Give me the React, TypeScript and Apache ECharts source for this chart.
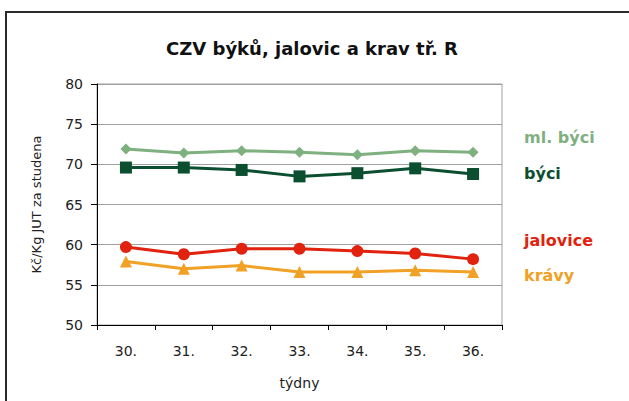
import React, { useEffect, useRef } from "react";
import * as echarts from "echarts";

const title = "CZV býků, jalovic a krav tř. R";
const weeks = ["30.", "31.", "32.", "33.", "34.", "35.", "36."];
const seriesNames = ["ml. býci", "býci", "jalovice", "krávy"];
const mlByci = [71.9, 71.4, 71.7, 71.5, 71.2, 71.7, 71.5];
const byci = [69.6, 69.6, 69.3, 68.5, 68.9, 69.5, 68.8];
const jalovice = [59.7, 58.8, 59.5, 59.5, 59.2, 58.9, 58.2];
const kravy = [57.9, 57.0, 57.4, 56.6, 56.6, 56.8, 56.6];
const yMin = 50;
const yMax = 80;
const yStep = 5;
const yAxisName = "Kč/Kg JUT za studena";
const xAxisName = "týdny";

const colors = ["#7fb07f", "#0b4f30", "#e0220e", "#f0a126"];
const symbols = ["diamond", "rect", "circle", "triangle"];
const symbolSizes = [11, 12, 12, 12];
const labelY = [139, 175, 242, 277];

export default function App() {
  const ref = useRef<HTMLDivElement>(null);
  useEffect(() => {
    if (!ref.current) return;
    const chart = echarts.init(ref.current, null, { renderer: "svg" });
    const data = [mlByci, byci, jalovice, kravy];
    const font = "'DejaVu Sans', Verdana, sans-serif";
    chart.setOption({
      animation: false,
      backgroundColor: "#ffffff",
      textStyle: { fontFamily: font },
      title: {
        text: title,
        left: 307,
        textAlign: "center",
        top: 34,
        textStyle: { fontSize: 18, fontWeight: "bold", color: "#111", fontFamily: font },
      },
      grid: { left: 97, right: 127, top: 84, bottom: 76, show: true, borderColor: "#a0a0a0", borderWidth: 1 },
      xAxis: {
        type: "category",
        data: weeks,
        boundaryGap: true,
        name: xAxisName,
        nameLocation: "middle",
        nameGap: 51,
        nameTextStyle: { fontSize: 14, color: "#222", fontFamily: font },
        axisLine: { lineStyle: { color: "#000", width: 1 } },
        axisTick: { show: true, alignWithLabel: false, length: 5, lineStyle: { color: "#000" } },
        axisLabel: { fontSize: 14, color: "#222", margin: 19, fontFamily: font },
        splitLine: { show: false },
      },
      yAxis: {
        type: "value",
        min: yMin,
        max: yMax,
        interval: yStep,
        name: yAxisName,
        nameLocation: "middle",
        nameGap: 54,
        nameTextStyle: { fontSize: 13, color: "#222", fontFamily: font },
        axisLine: { show: true, lineStyle: { color: "#000", width: 1 } },
        axisTick: { show: true, length: 6, lineStyle: { color: "#000" } },
        axisLabel: { fontSize: 14, color: "#222", margin: 14, fontFamily: font },
        splitLine: { show: true, lineStyle: { color: "#a0a0a0", width: 1 } },
      },
      series: seriesNames.map((name, i) => ({
        name,
        type: "line",
        data: data[i],
        symbol: symbols[i],
        symbolSize: symbolSizes[i],
        showAllSymbol: true,
        lineStyle: { color: colors[i], width: 3 },
        itemStyle: { color: colors[i] },
        z: 10 - i,
      })),
      graphic: [
        {
          type: "rect",
          shape: { x: 6, y: 12, width: 700, height: 500 },
          style: { fill: "none", stroke: "#2a2a2a", lineWidth: 2 },
          silent: true,
        },
        ...seriesNames.map((name, i) => ({
          type: "text",
          left: 524,
          top: labelY[i] - 10,
          style: {
            text: name,
            fill: colors[i],
            font: `bold 16px ${font}`,
          },
        })),
      ],
    });
    return () => chart.dispose();
  }, []);
  return <div ref={ref} style={{ position: "fixed", left: 0, top: 0, width: 629, height: 401 }} />;
}
